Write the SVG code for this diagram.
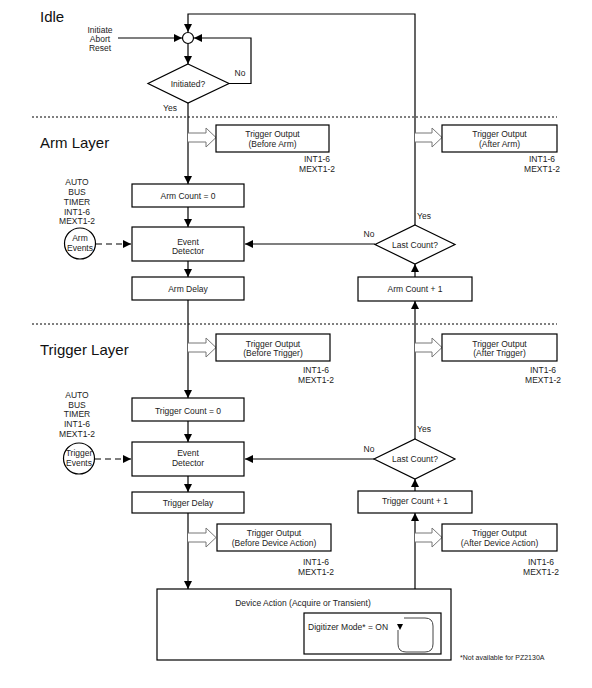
<svg xmlns="http://www.w3.org/2000/svg" width="592" height="688" viewBox="0 0 592 688">
<defs>
<marker id="ah" markerUnits="userSpaceOnUse" markerWidth="8" markerHeight="8" viewBox="0 0 8 8" refX="8" refY="4" orient="auto">
<path d="M0,0 L8,4 L0,8 Z" fill="#000"/>
</marker>
<style>
.t{font-family:"Liberation Sans",Arial,sans-serif;font-size:8.5px;fill:#222;text-anchor:middle}
.s{font-family:"Liberation Sans",Arial,sans-serif;font-size:7px;fill:#222}
.h{font-family:"Liberation Sans",Arial,sans-serif;font-size:15px;fill:#111}
.b{fill:#fff;stroke:#000;stroke-width:1.2}
.c{fill:none;stroke:#000;stroke-width:1.2}
.a{fill:none;stroke:#000;stroke-width:1.2;marker-end:url(#ah)}
.d{fill:none;stroke:#000;stroke-width:1.2;stroke-dasharray:6 4;marker-end:url(#ah)}
.sep{fill:none;stroke:#000;stroke-width:1;stroke-dasharray:2 2}
.ho{fill:#fff;stroke:#777;stroke-width:1}
</style>
</defs>
<rect width="592" height="688" fill="#fff"/>

<text class="h" x="40" y="22">Idle</text>
<text class="h" x="40" y="148">Arm Layer</text>
<text class="h" x="40" y="355">Trigger Layer</text>
<line class="sep" x1="32" y1="117" x2="557" y2="117"/>
<line class="sep" x1="32" y1="324" x2="557" y2="324"/>

<g id="connectors">
<path class="a" d="M415,225 V14 H188 V32"/>
<path class="a" d="M118,38 H182"/>
<path class="a" d="M229,83.5 H251 V38 H194"/>
<path class="a" d="M188,43.5 V64"/>
<path class="a" d="M188,103 V184"/>
<path class="a" d="M188,207 V227"/>
<path class="a" d="M188,261 V277"/>
<path class="a" d="M188,300 V398"/>
<path class="a" d="M188,421 V442"/>
<path class="a" d="M188,476 V492"/>
<path class="a" d="M188,513 V589"/>
<path class="a" d="M415,589 V513"/>
<path class="a" d="M415,491 V479"/>
<path class="a" d="M415,439 V301"/>
<path class="a" d="M415,277 V264"/>
<path class="a" d="M375,244 H245"/>
<path class="a" d="M374,459 H245"/>
<path class="d" d="M96,244 H131"/>
<path class="d" d="M95,459 H131"/>
<path class="ho" d="M188,133 H206 V128 L216,137.5 L206,147 V142 H188"/>
<path class="ho" d="M415,133 H432 V128 L442,137.5 L432,147 V142 H415"/>
<path class="ho" d="M188,343 H206 V338 L216,347.5 L206,357 V352 H188"/>
<path class="ho" d="M415,343 H432 V338 L442,347.5 L432,357 V352 H415"/>
<path class="ho" d="M188,533 H206 V528 L216,537.5 L206,547 V542 H188"/>
<path class="ho" d="M415,533 H432 V528 L442,537.5 L432,547 V542 H415"/>
</g>

<g id="idle-inputs">
<text class="t" x="100" y="33">Initiate</text>
<text class="t" x="100" y="42">Abort</text>
<text class="t" x="100" y="51">Reset</text>
</g>
<g id="junction"><circle class="b" cx="188" cy="38" r="5.5"/></g>
<g id="initiated">
<polygon class="b" points="188,64 229,83.5 188,103 148,83.5"/>
<text class="t" x="188" y="86.5">Initiated?</text>
<text class="t" x="240" y="76">No</text>
<text class="t" x="170" y="111">Yes</text>
</g>

<g id="to-before-arm">
<rect class="b" x="216" y="125" width="113" height="27"/>
<text class="t" x="272.5" y="137">Trigger Output</text>
<text class="t" x="272.5" y="146.5">(Before Arm)</text>
<text class="t" x="317" y="162">INT1-6</text>
<text class="t" x="317" y="172">MEXT1-2</text>
</g>
<g id="to-after-arm">
<rect class="b" x="442" y="125" width="115" height="27"/>
<text class="t" x="499.5" y="137">Trigger Output</text>
<text class="t" x="499.5" y="146.5">(After Arm)</text>
<text class="t" x="542" y="162">INT1-6</text>
<text class="t" x="542" y="172">MEXT1-2</text>
</g>
<g id="arm-sources">
<text class="t" x="77" y="185">AUTO</text>
<text class="t" x="77" y="195">BUS</text>
<text class="t" x="77" y="205">TIMER</text>
<text class="t" x="77" y="215">INT1-6</text>
<text class="t" x="77" y="224">MEXT1-2</text>
</g>
<g id="arm-events">
<circle class="b" cx="80" cy="243.5" r="15.5"/>
<text class="t" x="80" y="241">Arm</text>
<text class="t" x="80" y="251">Events</text>
</g>
<g id="arm-count-0">
<rect class="b" x="132" y="184" width="112" height="23"/>
<text class="t" x="188" y="198.5">Arm Count = 0</text>
</g>
<g id="arm-event-detector">
<rect class="b" x="132" y="227" width="112" height="34"/>
<text class="t" x="188" y="244.5">Event</text>
<text class="t" x="188" y="253.5">Detector</text>
</g>
<g id="arm-delay">
<rect class="b" x="132" y="277" width="112" height="23"/>
<text class="t" x="188" y="292">Arm Delay</text>
</g>
<g id="arm-last-count">
<polygon class="b" points="415,225 455,244.5 415,264 375,244.5"/>
<text class="t" x="415" y="248">Last Count?</text>
<text class="t" x="424" y="219">Yes</text>
<text class="t" x="369" y="237">No</text>
</g>
<g id="arm-count-plus">
<rect class="b" x="358" y="277" width="114" height="24"/>
<text class="t" x="415" y="292">Arm Count + 1</text>
</g>

<g id="to-before-trigger">
<rect class="b" x="216" y="334" width="114" height="27"/>
<text class="t" x="273" y="347">Trigger Output</text>
<text class="t" x="273" y="356">(Before Trigger)</text>
<text class="t" x="316" y="373">INT1-6</text>
<text class="t" x="316" y="383">MEXT1-2</text>
</g>
<g id="to-after-trigger">
<rect class="b" x="442" y="334" width="115" height="27"/>
<text class="t" x="499.5" y="347">Trigger Output</text>
<text class="t" x="499.5" y="356">(After Trigger)</text>
<text class="t" x="543" y="373">INT1-6</text>
<text class="t" x="543" y="383">MEXT1-2</text>
</g>
<g id="trigger-sources">
<text class="t" x="77" y="398">AUTO</text>
<text class="t" x="77" y="408">BUS</text>
<text class="t" x="77" y="417">TIMER</text>
<text class="t" x="77" y="427">INT1-6</text>
<text class="t" x="77" y="437">MEXT1-2</text>
</g>
<g id="trigger-events">
<circle class="b" cx="79" cy="458.5" r="15.5"/>
<text class="t" x="79" y="456">Trigger</text>
<text class="t" x="79" y="466">Events</text>
</g>
<g id="trigger-count-0">
<rect class="b" x="132" y="398" width="112" height="23"/>
<text class="t" x="188" y="413.5">Trigger Count = 0</text>
</g>
<g id="trigger-event-detector">
<rect class="b" x="132" y="442" width="112" height="34"/>
<text class="t" x="188" y="455.5">Event</text>
<text class="t" x="188" y="465.5">Detector</text>
</g>
<g id="trigger-delay">
<rect class="b" x="132" y="492" width="112" height="21"/>
<text class="t" x="188" y="505.5">Trigger Delay</text>
</g>
<g id="trigger-last-count">
<polygon class="b" points="415,439 455,459 415,479 374,459"/>
<text class="t" x="415" y="462">Last Count?</text>
<text class="t" x="424" y="432">Yes</text>
<text class="t" x="369" y="452">No</text>
</g>
<g id="trigger-count-plus">
<rect class="b" x="358" y="491" width="114" height="22"/>
<text class="t" x="415" y="504">Trigger Count + 1</text>
</g>

<g id="to-before-device">
<rect class="b" x="217" y="524" width="114" height="27"/>
<text class="t" x="274" y="535.5">Trigger Output</text>
<text class="t" x="274" y="545.5">(Before Device Action)</text>
<text class="t" x="316" y="565">INT1-6</text>
<text class="t" x="316" y="575">MEXT1-2</text>
</g>
<g id="to-after-device">
<rect class="b" x="442" y="524" width="115" height="27"/>
<text class="t" x="499.5" y="535.5">Trigger Output</text>
<text class="t" x="499.5" y="545.5">(After Device Action)</text>
<text class="t" x="541" y="565">INT1-6</text>
<text class="t" x="541" y="575">MEXT1-2</text>
</g>
<g id="device-action">
<rect class="b" x="157" y="589" width="294" height="71"/>
<text class="t" x="303" y="606">Device Action (Acquire or Transient)</text>
<rect class="b" x="304" y="613" width="137" height="41"/>
<text class="t" x="308" y="630" style="text-anchor:start">Digitizer Mode* = ON</text>
<path d="M404,618 H425 Q433,618 433,626 V644 Q433,652 425,652 H406 Q398,652 398,644 V630" fill="none" stroke="#444" stroke-width="1"/>
<path d="M397,624 L403,624 L400,630 Z" fill="#000"/>
</g>
<g id="footnote">
<text class="s" x="460" y="660">*Not available for PZ2130A</text>
</g>
</svg>
